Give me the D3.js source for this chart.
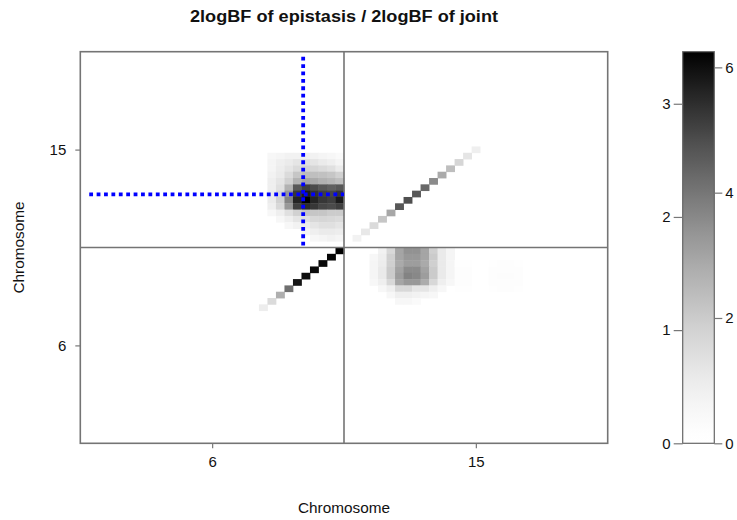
<!DOCTYPE html>
<html><head><meta charset="utf-8">
<script src="https://cdn.jsdelivr.net/npm/d3@7"></script>
<style>
body{margin:0;background:#fff}
svg{display:block}
text{font-family:"Liberation Sans",Arial,Helvetica,sans-serif;fill:#111}
</style>
</head><body>
<svg id="chart" width="737" height="520"></svg>
<script>
// ---------------- data ----------------
const chromosomes = ["6", "15"];
const markersPerChromosome = 31;
const epistasisMax = 3.46;   // 2logBF of epistasis (left colour-bar scale)
const jointMax = 6.25;       // 2logBF of joint (right colour-bar scale)
const epistasisTicks = [0, 1, 2, 3];
const jointTicks = [0, 2, 4, 6];
const titleText = "2logBF of epistasis / 2logBF of joint";
const axisTitle = "Chromosome";

// peak marker pair (marker index units) marked by the blue cross
const peakMarker = { col: 26.2, row: 39.4 };

// epistasis block: chr6 markers 22..30 (columns) x chr15 markers, rows 45 down to 32
const epistasisFirstCol = 22;
const epistasisRows = [45, 44, 43, 42, 41, 40, 39, 38, 37, 36, 35, 34, 33, 32];
const epistasisValues = [
  [0.28, 0.35, 0.41, 0.41, 0.47, 0.41, 0.35, 0.28, 0.21],
  [0.35, 0.47, 0.57, 0.67, 0.77, 0.67, 0.57, 0.47, 0.35],
  [0.35, 0.52, 0.67, 0.85, 0.98, 0.94, 0.85, 0.77, 0.57],
  [0.41, 0.57, 0.85, 1.18, 1.33, 1.29, 1.26, 1.18, 1.02],
  [0.47, 0.67, 1.02, 1.47, 1.64, 1.58, 1.47, 1.40, 1.29],
  [0.47, 0.77, 1.47, 2.56, 2.83, 2.70, 2.56, 2.47, 2.56],
  [0.52, 0.90, 1.81, 2.91, 3.18, 2.97, 2.83, 2.75, 2.91],
  [0.57, 1.02, 2.06, 3.10, 3.46, 3.10, 2.91, 2.83, 3.18],
  [0.47, 0.90, 1.81, 2.83, 3.02, 2.91, 2.75, 2.70, 2.83],
  [0.28, 0.47, 0.77, 1.02, 1.18, 1.18, 1.18, 1.10, 1.10],
  [0.00, 0.28, 0.47, 0.67, 0.77, 0.90, 0.94, 0.90, 0.85],
  [0.00, 0.00, 0.28, 0.41, 0.52, 0.67, 0.77, 0.77, 0.67],
  [0.00, 0.00, 0.00, 0.00, 0.35, 0.47, 0.57, 0.57, 0.52],
  [0.00, 0.00, 0.00, 0.00, 0.00, 0.28, 0.35, 0.41, 0.35]
];

// joint, diagonal (single marker) – chr6 markers 21..30, chr15 markers 32..46
const jointDiagChr6First = 21;
const jointDiagChr6 = [0.95, 1.55, 2.73, 4.16, 5.87, 6.00, 6.05, 6.10, 6.17, 6.25];
const jointDiagChr15First = 32;
const jointDiagChr15 = [0.75, 1.13, 1.55, 2.14, 2.92, 4.64, 4.79, 4.64, 4.28, 3.57, 2.86, 2.35, 1.70, 1.22, 0.85];

// joint block: chr15 markers 34..43 (columns) x chr6 markers, rows 30 down to 22
const jointFirstCol = 34;
const jointRows = [30, 29, 28, 27, 26, 25, 24, 23, 22];
const jointValues = [
  [0.00, 0.74, 1.63, 2.98, 3.40, 3.40, 2.98, 1.86, 1.04, 0.63],
  [0.52, 0.85, 1.86, 2.98, 3.28, 3.28, 2.98, 2.00, 1.04, 0.63],
  [0.63, 0.95, 1.86, 2.86, 3.16, 3.16, 2.86, 1.86, 1.04, 0.63],
  [0.63, 1.04, 2.00, 3.04, 3.57, 3.57, 3.04, 2.00, 1.04, 0.63],
  [0.63, 1.04, 2.00, 3.16, 3.74, 3.62, 3.16, 2.00, 1.04, 0.63],
  [0.52, 0.85, 1.63, 2.98, 3.28, 3.28, 2.80, 1.63, 0.85, 0.52],
  [0.00, 0.52, 0.85, 1.63, 1.63, 1.22, 1.22, 0.85, 0.52, 0.00],
  [0.00, 0.00, 0.52, 0.85, 0.85, 0.74, 0.63, 0.52, 0.00, 0.00],
  [0.00, 0.00, 0.00, 0.52, 0.52, 0.39, 0.00, 0.00, 0.00, 0.00]
];

// faint joint patch: chr15 markers 44..51 x chr6 markers 28..24
const faintFirstCol = 44;
const faintRows = [28, 27, 26, 25, 24];
const faintValues = [
  [0.14, 0.14, 0.00, 0.00, 0.14, 0.16, 0.16, 0.14],
  [0.18, 0.18, 0.00, 0.00, 0.18, 0.22, 0.22, 0.18],
  [0.18, 0.18, 0.00, 0.00, 0.18, 0.25, 0.25, 0.18],
  [0.18, 0.18, 0.00, 0.00, 0.18, 0.22, 0.22, 0.18],
  [0.14, 0.14, 0.00, 0.00, 0.14, 0.16, 0.16, 0.14]
];

// ---------------- build cells ----------------
const cells = [];
epistasisRows.forEach((r, i) => epistasisValues[i].forEach((v, j) =>
  cells.push({ col: epistasisFirstCol + j, row: r, t: v / epistasisMax })));
jointDiagChr6.forEach((v, j) => cells.push({ col: jointDiagChr6First + j, row: jointDiagChr6First + j, t: v / jointMax }));
jointDiagChr15.forEach((v, j) => cells.push({ col: jointDiagChr15First + j, row: jointDiagChr15First + j, t: v / jointMax }));
jointRows.forEach((r, i) => jointValues[i].forEach((v, j) =>
  cells.push({ col: jointFirstCol + j, row: r, t: v / jointMax })));
faintRows.forEach((r, i) => faintValues[i].forEach((v, j) =>
  cells.push({ col: faintFirstCol + j, row: r, t: v / jointMax })));

// ---------------- drawing ----------------
const nMarkers = markersPerChromosome * chromosomes.length;
const svg = d3.select("#chart");
const plot = { left: 80.3, right: 607.7, top: 51.7, bottom: 443.3 };

const x = d3.scaleLinear().domain([0, nMarkers]).range([plot.left, plot.right]);
const y = d3.scaleLinear().domain([0, nMarkers]).range([plot.bottom, plot.top]);

const grayOf = t => {
  const c = Math.max(0, Math.min(1, t));
  const g = Math.round(255 * (1 - Math.pow(c, 1.4)));
  return d3.rgb(g, g, g).toString();
};

svg.append("rect").attr("width", 737).attr("height", 520).attr("fill", "#fff");

svg.append("g").selectAll("rect")
  .data(cells.filter(d => d.t > 0))
  .join("rect")
  .attr("x", d => x(d.col))
  .attr("y", d => y(d.row + 1))
  .attr("width", d => x(d.col + 1) - x(d.col) + 0.4)
  .attr("height", d => y(d.row) - y(d.row + 1) + 0.4)
  .attr("fill", d => grayOf(d.t));

// chromosome dividers
const borderColor = "#747474";
svg.append("line")
  .attr("x1", x(markersPerChromosome)).attr("x2", x(markersPerChromosome))
  .attr("y1", y(0)).attr("y2", y(nMarkers))
  .attr("stroke", borderColor).attr("stroke-width", 1.6);
svg.append("line")
  .attr("x1", x(0)).attr("x2", x(nMarkers))
  .attr("y1", y(markersPerChromosome)).attr("y2", y(markersPerChromosome))
  .attr("stroke", borderColor).attr("stroke-width", 1.6);

// blue cross at peak
const blue = svg.append("g").attr("stroke", "#0000ff").attr("stroke-width", 3.8)
  .attr("stroke-dasharray", "3.8,3.6").attr("fill", "none");
blue.append("line")
  .attr("x1", x(1.05)).attr("x2", x(markersPerChromosome))
  .attr("y1", y(peakMarker.row)).attr("y2", y(peakMarker.row));
blue.append("line")
  .attr("x1", x(peakMarker.col)).attr("x2", x(peakMarker.col))
  .attr("y1", y(nMarkers - 0.8)).attr("y2", y(markersPerChromosome + 0.3));

// frame
svg.append("rect")
  .attr("x", plot.left).attr("y", plot.top)
  .attr("width", plot.right - plot.left).attr("height", plot.bottom - plot.top)
  .attr("fill", "none").attr("stroke", borderColor).attr("stroke-width", 1.6);

// axes
const tickPos = chromosomes.map((c, i) => (i + 0.5) * markersPerChromosome);
const styleAxis = g => {
  g.select(".domain").remove();
  g.selectAll(".tick line").attr("stroke", "#777").attr("stroke-width", 1.2);
  g.selectAll(".tick text").style("font-size", "15px").attr("fill", "#111");
};
svg.append("g").attr("transform", `translate(0,${plot.bottom})`)
  .call(d3.axisBottom(x).tickValues(tickPos).tickFormat((d, i) => chromosomes[i]).tickSize(5).tickPadding(8))
  .call(styleAxis);
svg.append("g").attr("transform", `translate(${plot.left},0)`)
  .call(d3.axisLeft(y).tickValues(tickPos).tickFormat((d, i) => chromosomes[i]).tickSize(5).tickPadding(9))
  .call(styleAxis);

// titles
svg.append("text").attr("x", (plot.left + plot.right) / 2).attr("y", 22)
  .attr("text-anchor", "middle").style("font-size", "16px").style("font-weight", "bold")
  .attr("textLength", 308).attr("lengthAdjust", "spacingAndGlyphs")
  .text(titleText);
svg.append("text").attr("x", (plot.left + plot.right) / 2).attr("y", 513)
  .attr("text-anchor", "middle").style("font-size", "14px")
  .attr("textLength", 92).attr("lengthAdjust", "spacingAndGlyphs")
  .text(axisTitle);
svg.append("text").attr("transform", `translate(24,${(plot.top + plot.bottom) / 2}) rotate(-90)`)
  .attr("text-anchor", "middle").style("font-size", "14px")
  .attr("textLength", 92).attr("lengthAdjust", "spacingAndGlyphs")
  .text(axisTitle);

// colour bar
const bar = { x: 682.7, w: 31.6 };
const defs = svg.append("defs");
const grad = defs.append("linearGradient").attr("id", "gbar")
  .attr("x1", 0).attr("y1", 1).attr("x2", 0).attr("y2", 0);
d3.range(0, 1.0001, 0.025).forEach(t =>
  grad.append("stop").attr("offset", t).attr("stop-color", grayOf(t)));
svg.append("rect").attr("x", bar.x).attr("y", plot.top)
  .attr("width", bar.w).attr("height", plot.bottom - plot.top)
  .attr("fill", "url(#gbar)").attr("stroke", "#666").attr("stroke-width", 1.2);

const epiScale = d3.scaleLinear().domain([0, epistasisMax]).range([plot.bottom, plot.top]);
const jointScale = d3.scaleLinear().domain([0, jointMax]).range([plot.bottom, plot.top]);
svg.append("g").attr("transform", `translate(${bar.x},0)`)
  .call(d3.axisLeft(epiScale).tickValues(epistasisTicks).tickFormat(d3.format("d")).tickSize(9).tickPadding(3))
  .call(styleAxis);
svg.append("g").attr("transform", `translate(${bar.x + bar.w},0)`)
  .call(d3.axisRight(jointScale).tickValues(jointTicks).tickFormat(d3.format("d")).tickSize(8).tickPadding(3))
  .call(styleAxis);
</script>
</body></html>
